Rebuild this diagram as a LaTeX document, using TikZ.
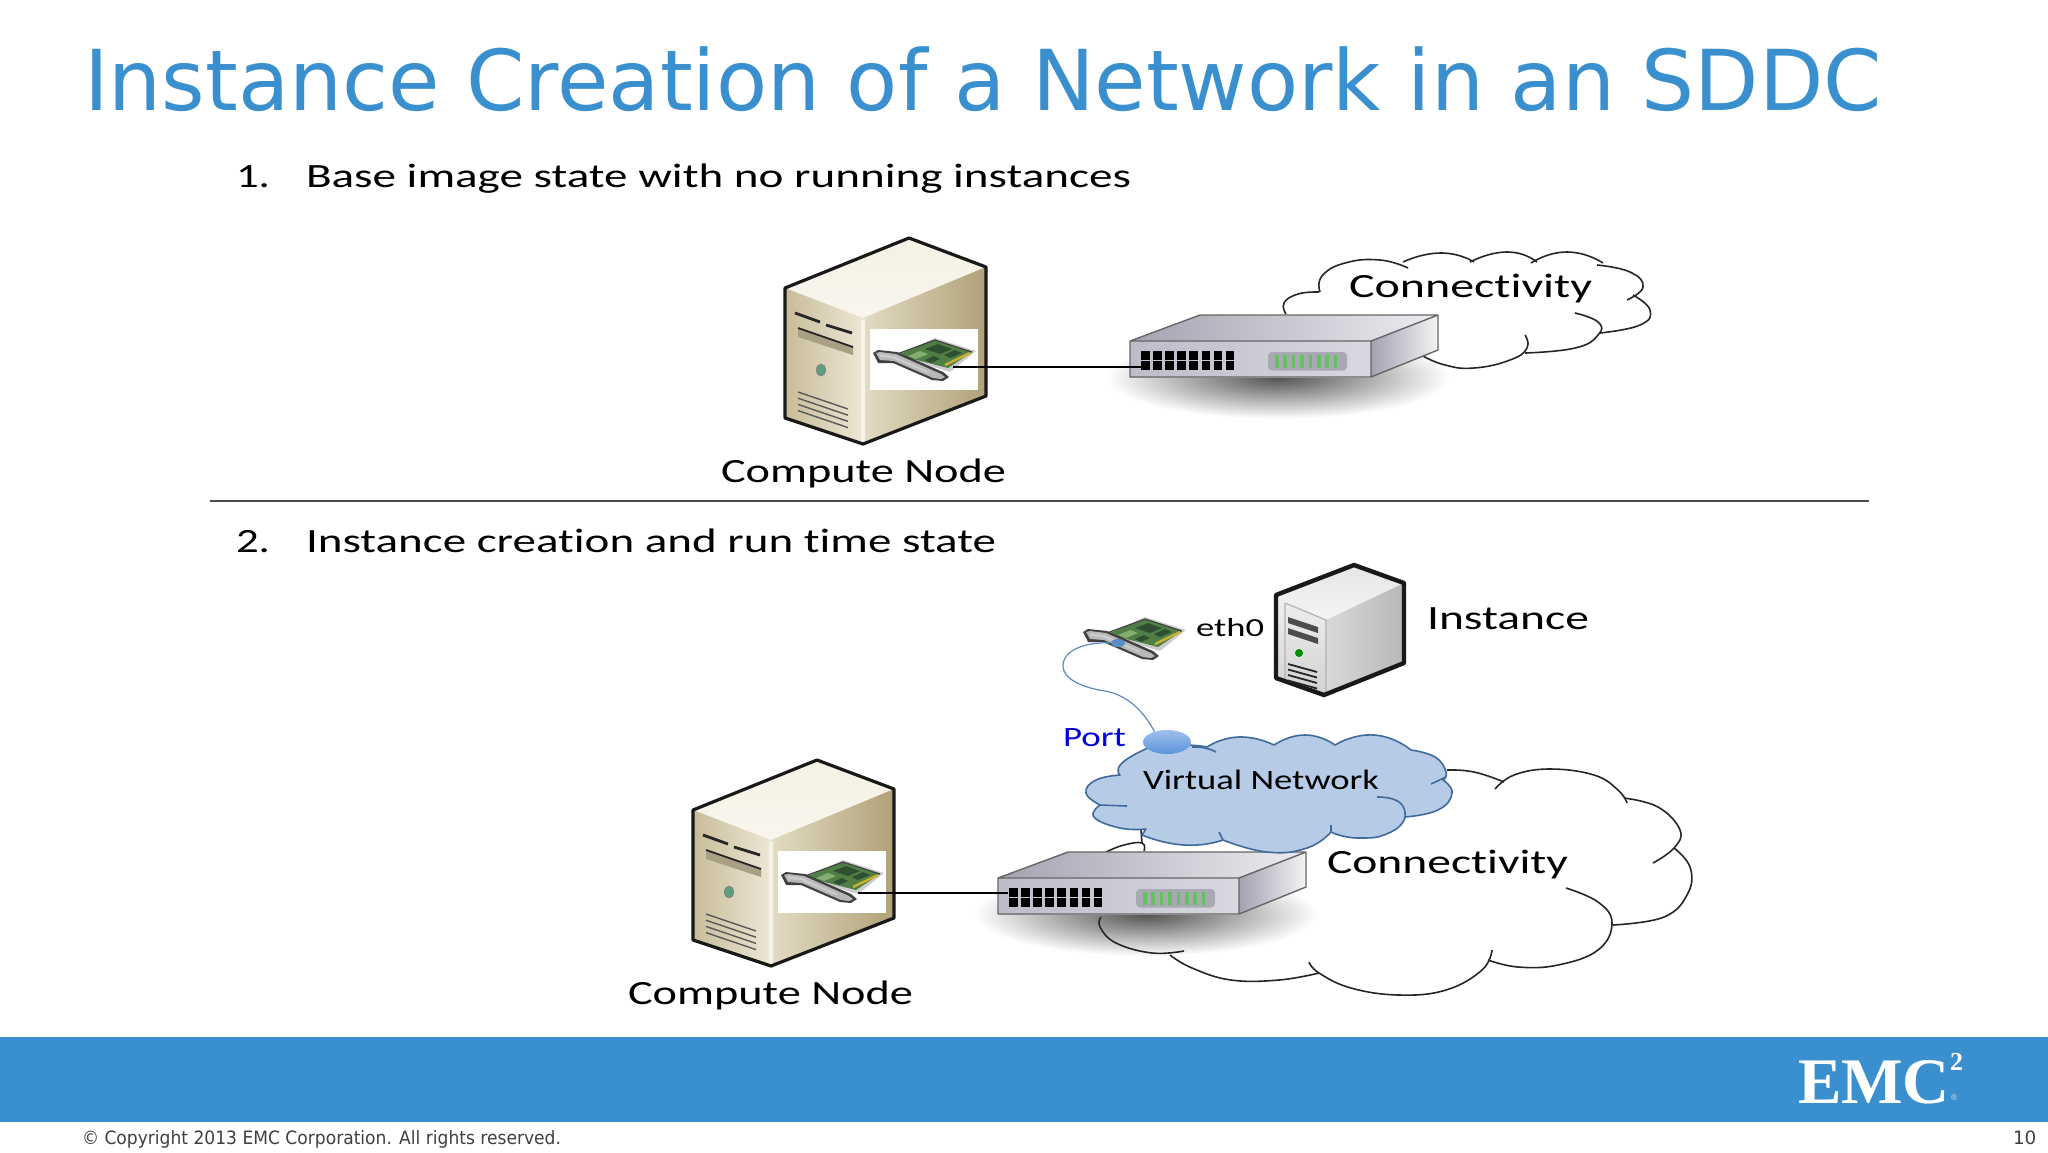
\documentclass[tikz,border=0pt]{standalone}
\usepackage{fontspec}
\usepackage{graphicx}
\usetikzlibrary{shapes.geometric}
\setmainfont{Carlito}[Ligatures={NoCommon}]
\newfontfamily\verd{DejaVu Sans}
\newfontfamily\logof{Liberation Serif}
\definecolor{emcblue}{HTML}{3A90CE}
\definecolor{vnfill}{HTML}{B5CBE6}
\definecolor{vnline}{HTML}{3F6A9C}
\definecolor{wirecol}{HTML}{5A8CC4}
\definecolor{pcb}{HTML}{4F7F45}
\definecolor{chip}{HTML}{2F4F30}
\definecolor{pcbl}{HTML}{86AE70}
\definecolor{gold}{HTML}{C8B030}
\definecolor{swta}{HTML}{A4A4B2}
\definecolor{swtb}{HTML}{ECECF0}
\definecolor{swfa}{HTML}{BDBDCA}
\definecolor{swfb}{HTML}{D8D8E0}
\definecolor{swra}{HTML}{A2A2B2}
\definecolor{swrb}{HTML}{F4F4F4}
\definecolor{swled}{HTML}{A9A9B2}
\definecolor{swgreen}{HTML}{64C060}
\definecolor{sva}{HTML}{F4F0E4}
\definecolor{svb}{HTML}{F8F6EE}
\definecolor{svc}{HTML}{C8BC98}
\definecolor{svd}{HTML}{ECE7D6}
\definecolor{sve}{HTML}{E3DBC3}
\definecolor{svf}{HTML}{B0A178}
\definecolor{svg}{HTML}{F5F2E8}
\definecolor{svh}{HTML}{A99F85}
\definecolor{svi}{HTML}{5F9F80}
\definecolor{pta}{HTML}{9FC0EE}
\definecolor{ptb}{HTML}{5B93D8}
% stretch a text to a given width, keeps its height
\newcommand{\fitw}[2]{\resizebox{#1}{\height}{#2}}
\tikzset{
  txt/.style={anchor=base west,inner sep=0pt,outer sep=0pt},
  lbl/.style={txt,font=\fontsize{17}{20}\selectfont,text=black},
  cloudline/.style={draw=black!85,line width=0.8pt},
  vnet/.style={draw=vnline,fill=vnfill,line width=0.8pt,line join=round},
  vnhook/.style={draw=vnline,line width=0.8pt},
  conn/.style={draw=black,line width=0.7pt},
  srv/.style={draw=black!90,line width=1.6pt,line join=round},
  nic/.pic={
    \fill[black!20] (896,356)--(935,338)--(976,351)--(950,372)--cycle;
    \fill[pcb] (897,355)--(935,340)--(972,352)--(948,368)--cycle;
    \fill[chip] (925,349)--(938,344)--(952,349)--(940,354)--cycle;
    \fill[chip] (944,355)--(955,350)--(962,353)--(950,358)--cycle;
    \fill[pcbl] (908,356)--(920,351)--(928,354)--(916,359)--cycle;
    \fill[chip] (925,360)--(934,356)--(940,359)--(931,363)--cycle;
    \draw[gold,line width=1.2pt] (945,365)--(970,353);
    \draw[black!75,line width=.6pt] (897,354)--(935,340)--(972,352);
    \fill[black!75] (873,353)--(878,350)--(897,352)--(943,372)--(949,377)--(943,381)--(932,380)--(893,363)--(878,363)--cycle;
    \fill[black!28] (876,353)--(880,352)--(896,354)--(941,374)--(945,377)--(941,379)--(933,378)--(894,361)--(880,360)--cycle;
    \fill[white!80!black] (880,354)--(894,356)--(930,372)--(928,373)--(892,358)--(880,357)--cycle;
  },
  switchbox/.pic={
    \shade[left color=swta,right color=swtb] (1130,341)--(1200,315)--(1438,315)--(1371,341)--cycle;
    \shade[left color=swfa,right color=swfb] (1130,341) rectangle (1371,377);
    \shade[left color=swra,right color=swrb] (1371,341)--(1438,315)--(1438,350)--(1371,377)--cycle;
    \draw[black!60,line width=.7pt,line join=round] (1130,341)--(1200,315)--(1438,315)--(1438,350)--(1371,377)--(1130,377)--cycle (1130,341)--(1371,341)--(1438,315) (1371,341)--(1371,377);
    \foreach \i in {0,...,7}{
      \fill[black] ({1141+\i*12.1},351) rectangle ++(8.5,8.5);
      \fill[black] ({1141+\i*12.1},361) rectangle ++(8.5,8.5);
    }
    \fill[swled,rounded corners=2pt] (1268,352) rectangle (1347,370.5);
    \foreach \i in {0,...,7}{
      \fill[swgreen] ({1275+\i*8.4},355) rectangle ++(3.6,13);
    }
  },
  serverbox/.pic={
    \shade[top color=sva,bottom color=svb] (909,238)--(986,267)--(863,318)--(785,288)--cycle;
    \shade[left color=svc,right color=svd] (785,288)--(863,318)--(863,444)--(785,418)--cycle;
    \shade[left color=sve,right color=svf] (863,318)--(986,267)--(986,396)--(863,444)--cycle;
    \fill[svg] (861,320)--(865,319)--(865,443)--(861,443)--cycle;
    \draw[srv] (909,238)--(986,267)--(986,396)--(863,444)--(785,418)--(785,288)--cycle;
    \draw[black!85,line width=1.4pt] (795,313)--(820,322) (826,325)--(852,333);
    \fill[svh] (798,328)--(853,347)--(853,355)--(798,337)--cycle;
    \draw[black!85,line width=.9pt] (798,328)--(853,347);
    \fill[svi,draw=black!50] (821,370) ellipse (4.5 and 6);
    \foreach \i in {0,...,3}{
      \draw[black!65,line width=.7pt] (798,{392+\i*6.2})--(848,{409+\i*6.2});
    }
  }
}
\begin{document}
\begin{tikzpicture}[x=0.5pt,y=-0.5pt]
\useasboundingbox (0,0) rectangle (2048,1152);
\fill[white] (0,0) rectangle (2048,1152);
% title and steps
\node[txt,font=\verd\fontsize{42}{50}\selectfont,text=emcblue] (title) at (84,110) {\fitw{899pt}{Instance Creation of a Network in an SDDC}};
\node[lbl] (n1) at (236,187) {\fitw{17pt}{1.}};
\node[lbl] (s1) at (306,187) {\fitw{412.5pt}{Base image state with no running instances}};
\node[lbl] (n2) at (236,552) {\fitw{17pt}{2.}};
\node[lbl] (s2) at (306,552) {\fitw{345pt}{Instance creation and run time state}};
\coordinate (rulel) at (210,501);
\coordinate (ruler) at (1869,501);
\draw[black!70,line width=.8pt] (rulel)--(ruler);

% shadows under the switches
\shade[inner color=black!68,outer color=white] (1278,377) ellipse (172 and 42);
\shade[inner color=black!68,outer color=white] (1146,914) ellipse (172 and 42);

% ---- step 1 ----
\draw[cloudline] plot[smooth,tension=.8] coordinates {(1286,314)(1284,303)(1298,294)(1319,292)};
\draw[cloudline] plot[smooth,tension=.8] coordinates {(1320,292)(1322,276)(1345,263)(1380,260)(1408,268)};
\draw[cloudline] plot[smooth,tension=1] coordinates {(1403,262)(1441,253)(1474,262)};
\draw[cloudline] plot[smooth,tension=1] coordinates {(1470,262)(1507,252)(1537,262)};
\draw[cloudline] plot[smooth,tension=1] coordinates {(1531,263)(1567,252)(1603,263)};
\draw[cloudline] plot[smooth,tension=.8] coordinates {(1597,265)(1630,272)(1643,287)(1627,300)};
\draw[cloudline] plot[smooth,tension=.8] coordinates {(1633,295)(1650,310)(1640,325)(1600,333)};
\draw[cloudline] plot[smooth,tension=.8] coordinates {(1575,313)(1598,322)(1598,335)(1575,348)(1525,353)};
\draw[cloudline] plot[smooth,tension=.8] coordinates {(1525,335)(1527,348)(1510,360)(1474,368)(1445,365)(1423,356)};

\pic at (0,0) {serverbox};
\fill[white] (870,329) rectangle (978,390);
\pic at (0,0) {nic};
\pic at (0,0) {switchbox};
\coordinate (nica) at (953,367);
\coordinate (swa) at (1142,367);
\draw[conn] (nica)--(swa);
\node[lbl] (cna) at (721,482) {\fitw{142.5pt}{Compute Node}};
\node[lbl] (cla) at (1349,297) {\fitw{121.5pt}{Connectivity}};

% ---- step 2 ----
\draw[cloudline] plot[smooth,tension=.8] coordinates {(1447,770)(1474,772)(1504,782)};
\draw[cloudline] plot[smooth,tension=.7] coordinates {(1495,789)(1514,775)(1550,769)(1594,775)(1618,790)(1627,803)};
\draw[cloudline] plot[smooth,tension=.7] coordinates {(1624,798)(1658,807)(1680,830)(1674,848)(1653,863)};
\draw[cloudline] plot[smooth,tension=.7] coordinates {(1674,848)(1690,867)(1688,893)(1664,917)(1613,925)};
\draw[cloudline] plot[smooth,tension=.7] coordinates {(1566,888)(1598,902)(1612,923)(1598,950)(1558,965)(1518,967)(1488,960)};
\draw[cloudline] plot[smooth,tension=.7] coordinates {(1492,950)(1482,970)(1446,990)(1399,995)(1351,988)(1319,973)(1309,962)};
\draw[cloudline] plot[smooth,tension=.7] coordinates {(1319,973)(1279,980)(1231,980)(1192,968)(1170,955)};
\draw[cloudline] plot[smooth,tension=.7] coordinates {(1184,951)(1152,953)(1116,943)(1100,927)(1101,917)};
\draw[cloudline] plot[smooth,tension=.8] coordinates {(1106,852)(1124,845)(1142,843)(1144,851)};
\draw[cloudline] (1141,830)--(1142,843);

\pic at (-92,522) {serverbox};
\fill[white] (778,851) rectangle (886,913);
\pic at (-92,522) {nic};
\pic at (-132,537) {switchbox};
\coordinate (nicb) at (858,893);
\coordinate (swb) at (1008,893);
\draw[conn] (nicb)--(swb);
\node[lbl] (cnb) at (628,1004) {\fitw{142.5pt}{Compute Node}};
\node[lbl] (clb) at (1327,873) {\fitw{120.5pt}{Connectivity}};

% virtual network cloud
\draw[vnet] plot[smooth,tension=1] coordinates {(1148,748)(1180,745)(1207,747)}
  -- plot[smooth,tension=1] coordinates {(1207,747)(1239,737)(1274,745)}
  -- plot[smooth,tension=1] coordinates {(1274,745)(1305,735)(1335,745)}
  -- plot[smooth,tension=1] coordinates {(1335,745)(1374,735)(1411,750)}
  -- plot[smooth,tension=.8] coordinates {(1411,750)(1435,757)(1446,772)(1443,780)}
  -- plot[smooth,tension=.8] coordinates {(1443,780)(1452,793)(1438,810)(1405,817)}
  -- plot[smooth,tension=1] coordinates {(1405,817)(1391,832)(1359,838)(1331,832)}
  -- plot[smooth,tension=.8] coordinates {(1331,832)(1307,848)(1267,852)(1223,840)}
  -- plot[smooth,tension=1] coordinates {(1223,840)(1184,845)(1142,835)}
  -- plot[smooth,tension=.8] coordinates {(1146,829)(1120,828)(1094,817)(1100,805)}
  -- plot[smooth,tension=.8] coordinates {(1100,805)(1086,793)(1096,780)(1120,775)}
  -- plot[smooth,tension=1] coordinates {(1120,775)(1122,763)(1148,748)} -- cycle;
\draw[vnhook] plot[smooth,tension=1] coordinates {(1192,747)(1205,748)(1216,752)};
\draw[vnhook] plot[smooth,tension=1] coordinates {(1377,797)(1399,802)(1405,817)};
\draw[vnhook] (1100,805)--(1127,806);
\draw[vnhook] (1331,832)--(1331,825);
\draw[vnhook] (1223,840)--(1219,832);
\draw[vnhook] (1446,777)--(1431,784);
\node[txt,font=\fontsize{14}{16}\selectfont] (vn) at (1143,789) {\fitw{118pt}{Virtual Network}};

% port and its wire
\node[ellipse,top color=pta,bottom color=ptb,minimum width=24pt,minimum height=12pt,inner sep=0pt] (port) at (1167,742) {};
\pic at (210,279) {nic};
\node[fill=wirecol,ellipse,minimum width=7pt,minimum height=4pt,inner sep=0pt] (nicport) at (1118,643) {};
\draw[wirecol,line width=.6pt] (nicport) .. controls (1085,642) and (1063,650) .. (1063,666)
  .. controls (1063,680) and (1085,688) .. (1105,691)
  .. controls (1128,695) and (1144,712) .. (port.140);
\node[txt,font=\fontsize{14}{16}\selectfont,text=blue!90!black] (pl) at (1063,746) {\fitw{31.5pt}{Port}};
\node[txt,font=\fontsize{13}{15}\selectfont] (eth) at (1196,636) {\fitw{34pt}{eth0}};

% instance server
\shade[top color=black!10,bottom color=black!4] (1354,565)--(1404,583)--(1326,620)--(1276,595)--cycle;
\shade[top color=black!6,bottom color=black!18] (1276,595)--(1326,620)--(1326,695)--(1276,678)--cycle;
\shade[left color=black!15,right color=black!28] (1326,620)--(1404,583)--(1404,663)--(1326,695)--cycle;
\draw[black!30,line width=.6pt] (1285,603)--(1326,620)--(1326,692) (1285,603)--(1285,683);
\draw[black!90,line width=2.2pt,line join=round] (1354,565)--(1404,583)--(1404,663)--(1324,695)--(1276,678)--(1276,595)--cycle;
\fill[black!70] (1288,617)--(1318,627)--(1318,633)--(1288,623)--cycle;
\fill[black!70] (1288,628)--(1318,638)--(1318,644)--(1288,634)--cycle;
\fill[green!55!black] (1299,653) circle (4);
\foreach \i in {0,...,3}{
  \draw[black!85,line width=.9pt] (1288,{664+\i*5.5})--(1317,{672+\i*5.5});
}
\node[lbl] (inst) at (1427,629) {\fitw{81pt}{Instance}};

% footer band
\fill[emcblue] (0,1037) rectangle (2048,1122);
\node[txt,font=\logof\bfseries\fontsize{32.5}{36}\selectfont,text=white] (logo) at (1798,1103) {\fitw{76pt}{EMC}};
\node[txt,font=\logof\bfseries\fontsize{13}{14}\selectfont,text=white] (logo2) at (1950,1070) {2};
\node[txt,font=\verd\fontsize{4}{5}\selectfont,text=white!75!emcblue] (logo3) at (1950,1100) {®};
\node[txt,font=\verd\fontsize{9.2}{11}\selectfont,text=black!75] (copy) at (82,1144.5) {\fitw{239.5pt}{© Copyright 2013 EMC Corporation. All rights reserved.}};
\node[txt,font=\verd\fontsize{9.2}{11}\selectfont,text=black!75] (pg) at (2013,1144.5) {10};
\end{tikzpicture}
\end{document}
